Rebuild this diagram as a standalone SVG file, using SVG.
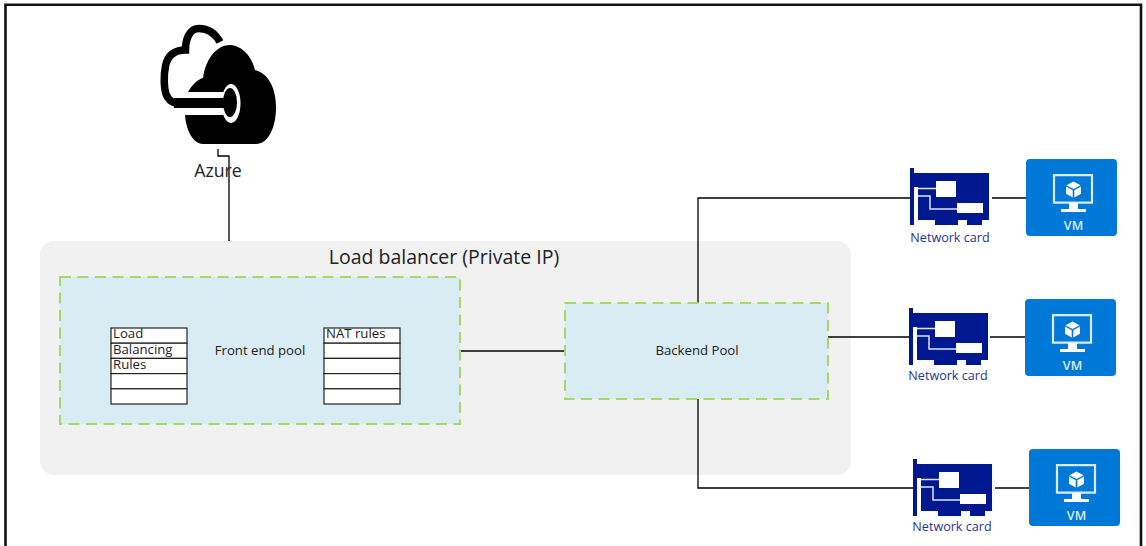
<svg xmlns="http://www.w3.org/2000/svg" width="1146" height="546" viewBox="0 0 1146 546">
<style>
text{font-family:"Open Sans","Noto Sans","Liberation Sans",sans-serif}
.pool{fill:#daecf3;stroke:#a2da68;stroke-width:2;stroke-dasharray:11 6.500}
.cell{fill:#fff;stroke:#222;stroke-width:1.2}
.t{font-size:13.200px;fill:#222}
.nic{font-size:12.600px;fill:#26348f;text-anchor:middle}
.conn{fill:none;stroke:#000;stroke-width:1.3}
</style>
<defs>
<g id="nicIcon">
<path fill="#00188f" d="M0 0h4v5h75v47h-7v5H57v-5h-9v5H25v-5H4v5H0z"/>
<path fill="#fff" d="M4 19h4v33H4zM26 13h20v16H26zM47 35h26v10H47z"/>
<path fill="none" stroke="#dfe3f3" stroke-width="1.500" d="M8 20.500H26M8 28H20V41H47"/>
</g>
<g id="vmIcon">
<rect width="91" height="77" rx="4" fill="#0078d7"/>
<path fill="none" stroke="#dbeaf8" stroke-width="2.200" d="M28 16.100h38v27.500h-38z"/>
<path fill="#fff" d="M43 44h9v6h8v3H35v-3h8z"/>
<path fill="#fff" d="M47.500 22.500l7 3.800-7 3.800-7-3.800zM40 27.500l6.700 3.800v7.200l-6.700-3.800zM55 27.500l-6.700 3.800v7.200l6.700-3.800z"/>
<text x="47.500" y="71" font-size="12.500" fill="#dcecf9" text-anchor="middle" font-weight="600">VM</text>
</g>
</defs>
<rect width="1146" height="546" fill="#fff"/>
<path d="M5.500 546V4.800H1141V546" fill="none" stroke="#111" stroke-width="2.600"/>
<g id="load-balancer">
<rect x="40" y="241" width="811" height="234" rx="14" fill="#f1f1f1"/>
<text x="444" y="263.500" font-size="19.500" fill="#222" text-anchor="middle">Load balancer (Private IP)</text>
</g>
<g id="connectors">
<path class="conn" d="M218 149V156H229V241"/>
<path class="conn" d="M460 351H565"/>
<path class="conn" d="M698 303V198H910"/>
<path class="conn" d="M828 337H909"/>
<path class="conn" d="M698 399V488H913"/>
<path class="conn" d="M992 198H1027"/>
<path class="conn" d="M990 337H1025"/>
<path class="conn" d="M995 488H1029"/>
</g>
<g id="azure">
<path fill="none" stroke="#000" stroke-width="7.500" d="M220 42C215 33 208 28.500 199 28.500C190 28.500 185.500 38 185.500 50C176 50 168 54 165.500 66C163.500 76 164 88 166 94C169 102 174 103.500 180 103.500"/>
<rect x="174" y="98" width="54" height="10" fill="#000"/>
<path fill="#000" d="M188 92C192 85 198 79 203 78C206 58 217 45 230 45C243 46 252 57 255 70C268 73 276 88 276 107C276 128 268 144 256 144H203C193 144 186 130 185 115H226V92Z"/>
<ellipse cx="231" cy="103.500" rx="9.500" ry="19.500" fill="#fff"/>
<ellipse cx="230" cy="102.500" rx="7" ry="14.500" fill="#000"/>
<rect x="218" y="98" width="10" height="10" fill="#000"/>
<text x="218" y="177" font-size="17.700" fill="#222" text-anchor="middle">Azure</text>
</g>
<g id="front-end-pool">
<rect class="pool" x="60" y="277" width="400" height="147"/>
<text class="t" x="260" y="355" text-anchor="middle">Front end pool</text>
</g>
<g id="lb-rules">
<rect class="cell" x="111" y="328" width="76" height="15.200"/>
<rect class="cell" x="111" y="343.200" width="76" height="15.200"/>
<rect class="cell" x="111" y="358.400" width="76" height="15.200"/>
<rect class="cell" x="111" y="373.600" width="76" height="15.200"/>
<rect class="cell" x="111" y="388.800" width="76" height="15.200"/>
<text class="t" x="113" y="338">Load</text>
<text class="t" x="113" y="353.500">Balancing</text>
<text class="t" x="113" y="369">Rules</text>
</g>
<g id="nat-rules">
<rect class="cell" x="324" y="328" width="76" height="15.200"/>
<rect class="cell" x="324" y="343.200" width="76" height="15.200"/>
<rect class="cell" x="324" y="358.400" width="76" height="15.200"/>
<rect class="cell" x="324" y="373.600" width="76" height="15.200"/>
<rect class="cell" x="324" y="388.800" width="76" height="15.200"/>
<text class="t" x="326" y="338">NAT rules</text>
</g>
<g id="backend-pool">
<rect class="pool" x="565" y="303" width="263" height="96"/>
<text class="t" x="697" y="355" text-anchor="middle">Backend Pool</text>
</g>
<g id="nic-1"><use href="#nicIcon" x="910" y="168"/><text class="nic" x="950" y="242">Network card</text></g>
<g id="nic-2"><use href="#nicIcon" x="909" y="308"/><text class="nic" x="948" y="380">Network card</text></g>
<g id="nic-3"><use href="#nicIcon" x="913" y="459"/><text class="nic" x="952" y="531">Network card</text></g>
<g id="vm-1"><use href="#vmIcon" x="1026" y="159"/></g>
<g id="vm-2"><use href="#vmIcon" x="1025" y="299"/></g>
<g id="vm-3"><use href="#vmIcon" x="1029" y="449"/></g>
</svg>
